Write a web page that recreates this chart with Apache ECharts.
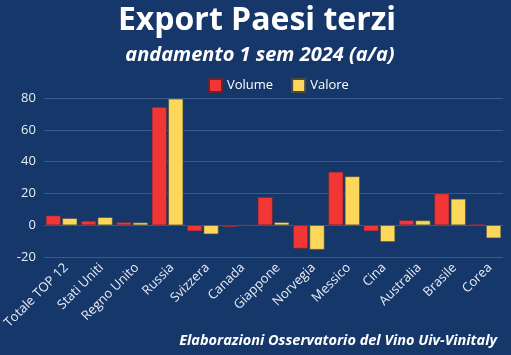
<!DOCTYPE html>
<html><head><meta charset="utf-8">
<script src="https://cdn.jsdelivr.net/npm/echarts@6/dist/echarts.min.js"></script>
<style>html,body{margin:0;padding:0;background:#15376a;}#c{width:511px;height:355px;}</style>
</head><body><div id="c"></div>
<script>
var categories = ["Totale TOP 12","Stati Uniti","Regno Unito","Russia","Svizzera","Canada","Giappone","Norvegia","Messico","Cina","Australia","Brasile","Corea"];
var volume = [6.1, 2.7, 1.9, 74.3, -3.8, -1.2, 17.7, -14.7, 33.6, -3.8, 3.2, 20.0, 0.8];
var valore = [4.4, 5.0, 1.7, 79.5, -5.7, 0.2, 1.9, -15.4, 30.7, -10.5, 3.0, 16.6, -8.2];
var yTicks = [-20, 0, 20, 40, 60, 80];

var chart = echarts.init(document.getElementById('c'), null, {renderer:'canvas'});
chart.setOption({
  backgroundColor: '#15376a',
  animation: false,
  title: [
    {text: 'Export Paesi terzi', left: 252, top: 0, textAlign: 'center',
     textStyle: {color: '#ffffff', fontFamily: 'Open Sans', fontWeight: 'bold', fontSize: 32}},
    {text: 'andamento 1 sem 2024 (a/a)', left: 255, top: 40, textAlign: 'center',
     textStyle: {color: '#ffffff', fontFamily: 'Open Sans', fontWeight: 'bold', fontStyle: 'italic', fontSize: 20}},
    {text: 'Elaborazioni Osservatorio del Vino Uiv-Vinitaly', right: 9, top: 328,
     textStyle: {color: '#ffffff', fontFamily: 'Open Sans', fontWeight: 'bold', fontStyle: 'italic', fontSize: 14.5}}
  ],
  legend: {
    left: 203, top: 73, itemWidth: 13, itemHeight: 13, itemGap: 18,
    icon: 'rect',
    textStyle: {color: '#ffffff', fontFamily: 'Open Sans', fontSize: 13},
    data: ['Volume', 'Valore']
  },
  grid: {left: 43, right: 8, top: 98, bottom: 98, containLabel: false},
  xAxis: {
    type: 'category', data: categories,
    axisLine: {show: false}, axisTick: {show: false},
    axisLabel: {color: '#e8ecf4', fontFamily: 'Open Sans', fontSize: 13, rotate: 45, interval: 0, margin: 4,
      verticalAlign: 'top'}
  },
  yAxis: {
    type: 'value', min: -20, max: 80, interval: 20,
    axisLine: {show: false}, axisTick: {show: false},
    axisLabel: {color: '#e8ecf4', fontFamily: 'Open Sans', fontSize: 13, margin: 8,
      formatter: function(v){ return yTicks.indexOf(v) >= 0 ? String(v) : ''; }},
    splitLine: {lineStyle: {color: '#3b5c8f', width: 1}}
  },
  series: [
    {name: 'Volume', type: 'bar', data: volume, barWidth: 15, barGap: '10%',
     itemStyle: {color: '#f23535', borderColor: '#5a2a3a', borderWidth: 0.6}},
    {name: 'Valore', type: 'bar', data: valore, barWidth: 15,
     itemStyle: {color: '#fcd75a', borderColor: '#4a4a40', borderWidth: 0.6}}
  ]
});
</script></body></html>
